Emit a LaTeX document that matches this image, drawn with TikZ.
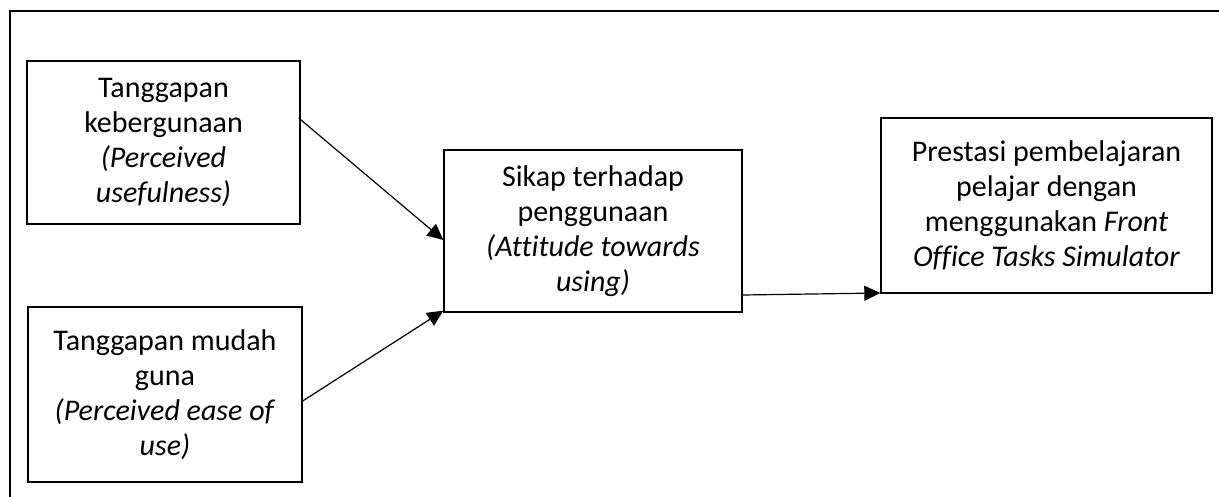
\documentclass[tikz,border=0pt]{standalone}
\usepackage{fontspec}
\setmainfont[Ligatures=NoCommon]{Carlito}
\usetikzlibrary{arrows.meta}
\begin{document}
\begin{tikzpicture}[x=0.5pt,y=-0.5pt,
  box/.style={draw=black, line width=0.7pt, inner sep=0pt, align=center,
    font=\fontsize{15pt}{17.5pt}\selectfont},
  conn/.style={line width=0.6pt, -{Triangle[length=8pt,width=7.5pt]}}]
\useasboundingbox (0,0) rectangle (1219,497);
\draw[line width=0.6pt] (10,497) -- (10,11) -- (1219,11);
\node[box, minimum width=136.5pt, minimum height=81.5pt] (b1) at (163.5,142.5)
  {Tanggapan\\kebergunaan\\\textit{(Perceived}\\\textit{usefulness)}};
\node[box, minimum width=137pt, minimum height=87.5pt] (b2) at (165,394.5)
  {Tanggapan mudah\\guna\\\textit{(Perceived ease of}\\\textit{use)}};
\node[box, minimum width=149pt, minimum height=81pt] (c) at (593,231)
  {Sikap terhadap\\penggunaan\\\textit{(Attitude towards}\\\textit{using)}};
\node[box, minimum width=165.5pt, minimum height=87.5pt] (b3) at (1046.5,205.5)
  {Prestasi pembelajaran\\pelajar dengan\\menggunakan \textit{Front}\\\textit{Office Tasks Simulator}};
\draw[conn] ([xshift=-1pt,yshift=12.25pt]b1.east) -- ([yshift=-4.5pt]c.west);
\draw[conn] ([yshift=-3.25pt]b2.east) -- ([yshift=1pt]c.south west);
\draw[conn] ([yshift=-32pt]c.east) -- ([yshift=-43.75pt]b3.west);
\end{tikzpicture}
\end{document}
